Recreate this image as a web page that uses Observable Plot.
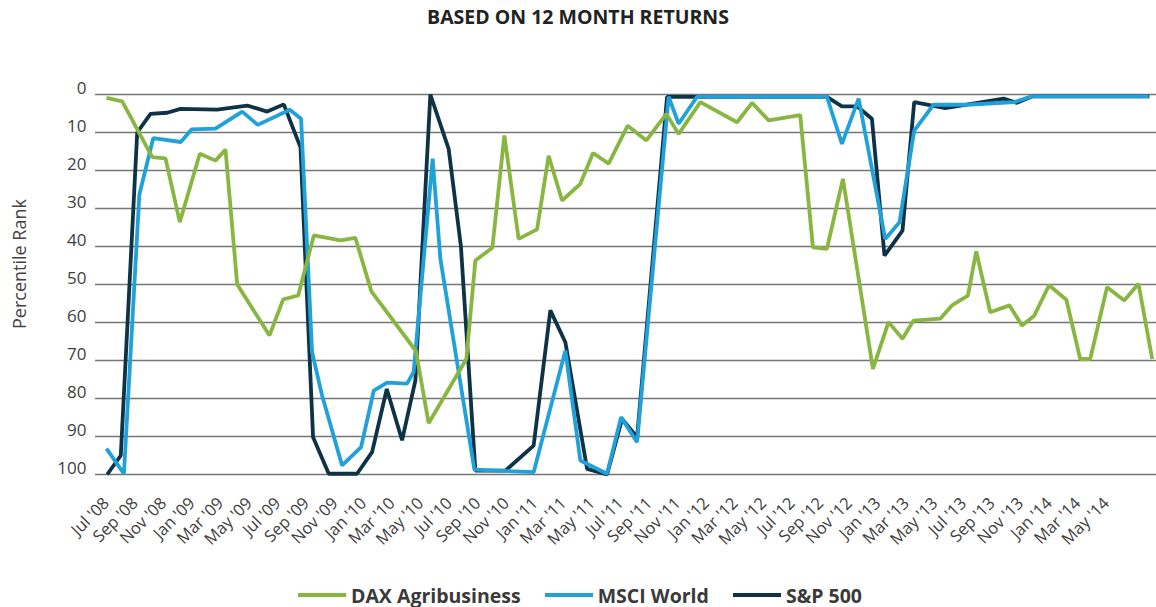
<!DOCTYPE html>
<html>
<head>
<meta charset="utf-8">
<script src="https://cdn.jsdelivr.net/npm/d3@7"></script>
<script src="https://cdn.jsdelivr.net/npm/@observablehq/plot@0.6"></script>
<style>
  html, body { margin: 0; padding: 0; background: #fff; }
  body { width: 1156px; height: 607px; overflow: hidden; font-family: "Open Sans", sans-serif; position: relative; }
  #title { height: 34px; line-height: 34px; text-align: center; font-weight: 700; font-size: 19.5px; color: #222; }
  #chart { height: 536px; }
  #ylabel { position: absolute; left: 18.5px; top: 264px; transform: translate(-50%, -50%) rotate(-90deg);
    white-space: nowrap; font-size: 18px; color: #444; line-height: 1; }
  #legend { display: flex; justify-content: center; align-items: center; gap: 24px; padding-top: 13px; padding-left: 4px; height: 24px; }
  .item { display: flex; align-items: center; gap: 5px; font-weight: 700; font-size: 19.5px; color: #3a3a3a; }
  .sw { width: 48px; height: 4px; }
</style>
</head>
<body>
<div id="title">BASED ON 12 MONTH RETURNS</div>
<div id="chart"></div>
<div id="ylabel">Percentile Rank</div>
<div id="legend"></div>
<script>
// Tick labels (every second month from Jul '08)
const xLabels = ["Jul '08","Sep '08","Nov '08","Jan '09","Mar '09","May '09","Jul '09","Sep '09","Nov '09",
  "Jan '10","Mar '10","May '10","Jul '10","Sep '10","Nov '10","Jan '11","Mar '11","May '11","Jul '11",
  "Sep '11","Nov '11","Jan '12","Mar '12","May '12","Jul '12","Sep '12","Nov '12","Jan '13","Mar '13",
  "May '13","Jul '13","Sep '13","Nov '13","Jan '14","Mar '14","May '14"];
const yTicks = [0, 10, 20, 30, 40, 50, 60, 70, 80, 90, 100];

const seriesNames = ["DAX Agribusiness", "MSCI World", "S&P 500"];
const seriesColors = ["#89b640", "#21a1d9", "#0e3347"];

// time in months since Jul '08, percentile rank values
const daxT = [0, 1.1, 3.2, 4.13, 5.13, 6.53, 7.63, 8.33, 9.15, 11.41, 12.37, 13.42, 14.51, 16.38, 17.42, 18.54,
  21.66, 22.55, 25.19, 25.82, 27.01, 27.85, 28.85, 30.14, 30.95, 31.89, 33.17, 34.06, 35.15, 36.48, 37.79,
  39.19, 40.05, 41.57, 44.14, 45.19, 46.35, 48.56, 49.45, 50.43, 51.55, 53.65, 54.74, 55.72, 56.49, 58.36,
  59.18, 60.3, 60.88, 61.86, 63.21, 64.08, 64.94, 65.98, 67.19, 68.16, 68.86, 70.04, 71.24, 72.24, 73.2];
const daxV = [0.9, 1.8, 16.5, 16.8, 33.6, 15.6, 17.4, 14.5, 50, 63.4, 53.9, 52.9, 37.1, 38.4, 37.7, 51.8,
  67.5, 86.5, 69.6, 43.7, 40.3, 10.8, 38, 35.5, 16.1, 27.9, 23.5, 15.4, 18.2, 8.2, 12.1,
  5.1, 10.4, 2.0, 7.3, 2.2, 6.8, 5.4, 40.2, 40.6, 22.2, 72.2, 59.9, 64.3, 59.5, 59.0,
  55.5, 52.9, 41.3, 57.3, 55.5, 60.8, 58.2, 50.2, 54.0, 69.6, 69.6, 50.7, 54.2, 49.8, 69.6];

const msciT = [0, 1.22, 2.3, 3.27, 5.2, 5.95, 7.63, 9.5, 10.59, 12.83, 13.62, 14.39, 15.09, 16.49, 17.82,
  18.71, 19.64, 21.04, 21.5, 22.83, 23.37, 25.75, 29.9, 32.12, 33.17, 35.04, 36.02, 37.14, 39.35, 40.05,
  41.34, 50.43, 51.48, 52.65, 54.51, 55.51, 56.54, 57.89, 60.23, 63.54, 64.78, 72.95];
const msciV = [93.2, 99.8, 26.3, 11.5, 12.5, 9.2, 9.0, 4.5, 8.0, 4.0, 6.4, 67.8, 79.2, 97.6, 92.8,
  77.9, 75.8, 76.1, 73.0, 16.9, 43.2, 98.7, 99.4, 67.4, 96.3, 99.8, 84.9, 91.5, 0.6, 7.7,
  0.6, 0.6, 13.0, 1.1, 38.0, 33.6, 9.5, 2.7, 2.7, 2.0, 0.5, 0.5];

const spT = [0.05, 1.0, 2.15, 3.08, 4.25, 5.18, 7.75, 9.85, 11.25, 12.41, 13.58, 14.46, 15.56, 17.54, 18.59,
  19.62, 20.69, 21.62, 22.67, 23.95, 24.81, 25.82, 27.92, 29.9, 31.07, 32.12, 33.64, 35.04, 36.09, 37.14,
  39.24, 50.43, 51.48, 52.53, 53.58, 54.46, 55.72, 56.54, 58.71, 62.79, 63.73, 64.78, 73.0];
const spV = [100, 95, 10, 5.1, 4.8, 3.8, 4.0, 2.9, 4.5, 2.6, 13.9, 90.2, 99.8, 99.8, 94.1,
  77.5, 91, 75.3, 0, 14.3, 40, 99, 99, 92.4, 56.8, 65.2, 98.5, 100, 85.4, 90.2,
  0.6, 0.6, 3.1, 3.1, 6.4, 42.4, 35.8, 2.0, 3.6, 1.1, 2.2, 0.5, 0.5];

const rows = (ts, vs) => ts.map((t, i) => ({t, v: vs[i]}));
const xTickPos = xLabels.map((_, i) => i * 2);
const lineOpts = (c) => ({x: "t", y: "v", stroke: c, strokeWidth: 3.8, strokeLinejoin: "miter", strokeLinecap: "butt"});

const chart = Plot.plot({
  width: 1156,
  height: 536,
  marginTop: 60,
  marginBottom: 96,
  marginLeft: 95,
  marginRight: 0,
  style: {fontFamily: "'Open Sans', sans-serif", background: "white", overflow: "visible"},
  x: {type: "linear", domain: [-0.77, 73.5]},
  y: {domain: [0, 100], reverse: true},
  marks: [
    Plot.gridY(yTicks, {stroke: "#767676", strokeOpacity: 1, strokeWidth: 1.5}),
    Plot.axisY(yTicks, {tickSize: 0, tickPadding: 9, dy: -6, fontSize: 17, fill: "#404040", label: null}),
    Plot.axisX(xTickPos, {tickFormat: d => xLabels[d / 2], tickRotate: -45, tickSize: 0, tickPadding: 26,
      fontSize: 16.5, fill: "#404040", label: null}),
    Plot.line(rows(spT, spV), lineOpts(seriesColors[2])),
    Plot.line(rows(msciT, msciV), lineOpts(seriesColors[1])),
    Plot.line(rows(daxT, daxV), lineOpts(seriesColors[0]))
  ]
});
document.getElementById("chart").appendChild(chart);

const legend = document.getElementById("legend");
seriesNames.forEach((name, i) => {
  const item = document.createElement("div");
  item.className = "item";
  const sw = document.createElement("div");
  sw.className = "sw";
  sw.style.background = seriesColors[i];
  const label = document.createElement("span");
  label.textContent = name;
  item.appendChild(sw);
  item.appendChild(label);
  legend.appendChild(item);
});
</script>
</body>
</html>
